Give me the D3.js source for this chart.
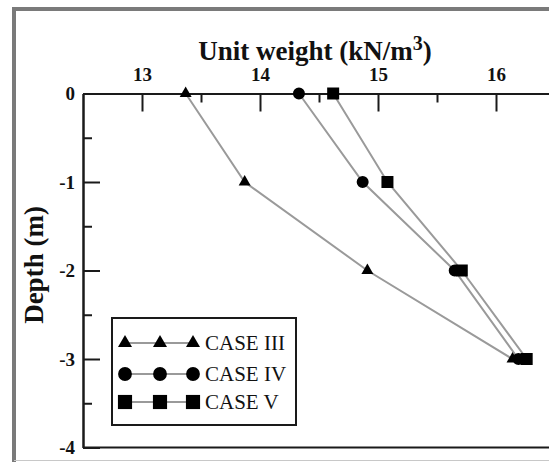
<!DOCTYPE html>
<html>
<head>
<meta charset="utf-8">
<script src="https://cdn.jsdelivr.net/npm/d3@7"></script>
<style>
  html, body { margin: 0; padding: 0; background: #fff; }
  svg { display: block; }
</style>
</head>
<body>
<svg id="chart" width="549" height="462"></svg>
<script>
// ---- data ----
const depths = [0, -1, -2, -3];
const case3 = [13.37, 13.87, 14.91, 16.14];
const case4 = [14.33, 14.87, 15.65, 16.19];
const case5 = [14.62, 15.08, 15.71, 16.26];
const seriesNames = ["CASE III", "CASE IV", "CASE V"];
const xMajorTicks = [13, 14, 15, 16];
const xMinorTicks = [13.5, 14.5, 15.5];
const yMajorTicks = [0, -1, -2, -3, -4];
const yMinorTicks = [-0.5, -1.5, -2.5, -3.5];

const svg = d3.select("#chart");
const font = "Liberation Serif, Times New Roman, serif";

// outer frame
svg.append("line").attr("x1", 14).attr("x2", 14).attr("y1", 7).attr("y2", 462)
  .attr("stroke", "#7a7a7a").attr("stroke-width", 4);
svg.append("line").attr("x1", 12).attr("x2", 549).attr("y1", 9).attr("y2", 9)
  .attr("stroke", "#7a7a7a").attr("stroke-width", 4);
svg.append("line").attr("x1", 14).attr("x2", 549).attr("y1", 460.5).attr("y2", 460.5)
  .attr("stroke", "#c8c8c8").attr("stroke-width", 1);

const x = d3.scaleLinear().domain([12.5, 17]).range([83, 83 + 4.5 * 118]);
const y = d3.scaleLinear().domain([0, -4]).range([93.5, 447.5]);

// x axis (top)
const gxMinor = svg.append("g").attr("transform", `translate(0,${y(0)})`)
  .call(d3.axisTop(x).tickValues(xMinorTicks).tickSize(-9).tickSizeOuter(0).tickFormat(""));
const gx = svg.append("g").attr("transform", `translate(0,${y(0)})`)
  .call(d3.axisTop(x).tickValues(xMajorTicks).tickSize(-18).tickSizeOuter(0).tickPadding(12.5).tickFormat(d3.format("d")));

// y axis (left)
const gyMinor = svg.append("g").attr("transform", `translate(${x(12.5)},0)`)
  .call(d3.axisLeft(y).tickValues(yMinorTicks).tickSize(-9).tickSizeOuter(0).tickFormat(""));
const gy = svg.append("g").attr("transform", `translate(${x(12.5)},0)`)
  .call(d3.axisLeft(y).tickValues(yMajorTicks).tickSize(-17).tickSizeOuter(0).tickPadding(8)
    .tickFormat(d => d === 0 ? "0" : "-" + Math.abs(d)));

[gxMinor, gx, gyMinor, gy].forEach(g => {
  g.attr("font-family", font);
  g.selectAll("path.domain").attr("stroke", "#1a1a1a").attr("stroke-width", 2);
  g.selectAll(".tick line").attr("stroke", "#1a1a1a").attr("stroke-width", 2);
  g.selectAll(".tick text").attr("font-family", font).attr("font-weight", "bold")
    .attr("font-size", 19).attr("fill", "#111");
});

// bottom closing line at -4
svg.append("line").attr("x1", x(12.5)).attr("x2", 549).attr("y1", y(-4)).attr("y2", y(-4))
  .attr("stroke", "#1a1a1a").attr("stroke-width", 2);

// titles
const title = svg.append("text").attr("x", 315).attr("y", 60).attr("text-anchor", "middle")
  .attr("font-family", font).attr("font-weight", "bold").attr("font-size", 27).attr("fill", "#111");
title.append("tspan").text("Unit weight (kN/m");
title.append("tspan").attr("font-size", 20).attr("dy", -10).text("3");
title.append("tspan").attr("dy", 10).text(")");

svg.append("text").attr("transform", "translate(43,265) rotate(-90)").attr("text-anchor", "middle")
  .attr("font-family", font).attr("font-weight", "bold").attr("font-size", 27).attr("fill", "#111")
  .text("Depth (m)");

// series
const series = [
  { name: seriesNames[0], vals: case3, sym: d3.symbolTriangle, size: 62, lsize: 85 },
  { name: seriesNames[1], vals: case4, sym: d3.symbolCircle, size: 113, lsize: 150 },
  { name: seriesNames[2], vals: case5, sym: d3.symbolSquare, size: 144, lsize: 200 }
];

const line = d3.line().x(d => x(d.v)).y(d => y(d.d));
series.forEach(s => {
  const pts = s.vals.map((v, i) => ({ v, d: depths[i] }));
  svg.append("path").datum(pts).attr("d", line).attr("fill", "none")
    .attr("stroke", "#9a9a9a").attr("stroke-width", 2);
});
series.forEach(s => {
  const pts = s.vals.map((v, i) => ({ v, d: depths[i] }));
  svg.selectAll(null).data(pts).enter().append("path")
    .attr("d", d3.symbol().type(s.sym).size(s.size))
    .attr("transform", d => `translate(${x(d.v)},${y(d.d)})`)
    .attr("fill", "#000");
});

// legend
const lg = svg.append("g");
lg.append("rect").attr("x", 112).attr("y", 318).attr("width", 184).attr("height", 107)
  .attr("fill", "#fff").attr("stroke", "#1a1a1a").attr("stroke-width", 2);
const rowY = [343, 374, 402];
const mx = [125, 160, 193];
series.forEach((s, i) => {
  lg.append("line").attr("x1", mx[0]).attr("x2", mx[2]).attr("y1", rowY[i]).attr("y2", rowY[i])
    .attr("stroke", "#9a9a9a").attr("stroke-width", 2);
  mx.forEach(m => {
    lg.append("path").attr("d", d3.symbol().type(s.sym).size(s.lsize)())
      .attr("transform", `translate(${m},${rowY[i]})`).attr("fill", "#000");
  });
  lg.append("text").attr("x", 205).attr("y", rowY[i]).attr("dy", "0.35em")
    .attr("font-family", font).attr("font-size", 21).attr("fill", "#111").text(s.name);
});
</script>
</body>
</html>
